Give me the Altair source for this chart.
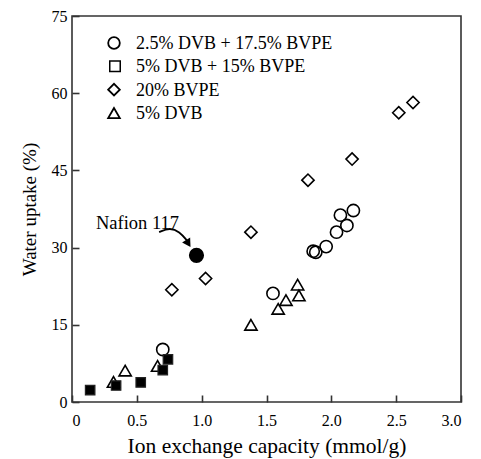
import altair as alt
import pandas as pd

# ---- data ----
series_names = ["2.5% DVB + 17.5% BVPE", "5% DVB + 15% BVPE", "20% BVPE", "5% DVB"]
shapes = ["circle", "square", "diamond", "triangle-up"]

circ_x = [0.70, 1.55, 1.86, 1.88, 1.96, 2.04, 2.12, 2.07, 2.17]
circ_y = [10.2, 21.1, 29.3, 29.1, 30.2, 33.0, 34.3, 36.3, 37.2]

sq_x = [0.14, 0.34, 0.53, 0.70, 0.74]
sq_y = [2.3, 3.2, 3.8, 6.2, 8.3]

dia_x = [0.77, 1.03, 1.38, 1.82, 2.16, 2.52, 2.63]
dia_y = [21.8, 24.0, 33.0, 43.1, 47.2, 56.2, 58.2]

tri_x = [0.32, 0.41, 0.66, 1.38, 1.59, 1.65, 1.74, 1.75]
tri_y = [3.9, 6.1, 7.0, 15.0, 18.1, 19.8, 22.8, 20.7]

nafion_x = [0.96]
nafion_y = [28.5]
nafion_label = ["Nafion 117"]
label_x = [0.185]
label_y = [34.8]

arrow_x = [0.672, 0.754, 0.83, 0.885]
arrow_y = [33.0, 33.9, 33.1, 31.4]
head_x = [0.897]
head_y = [30.8]

x_ticks = [0, 0.5, 1.0, 1.5, 2.0, 2.5, 3.0]
y_ticks = [0, 15, 30, 45, 60, 75]

FONT = "Liberation Serif"

open_names = [series_names[0], series_names[2], series_names[3]]
rows = []
for name, xs, ys in zip(open_names, [circ_x, dia_x, tri_x], [circ_y, dia_y, tri_y]):
    for a, b in zip(xs, ys):
        rows.append({"series": name, "x": a, "y": b})
df_open = pd.DataFrame(rows)
df_sq = pd.DataFrame({"x": sq_x, "y": sq_y})
df_leg_open = pd.DataFrame({"series": open_names})
df_leg_sq = pd.DataFrame({"series": [series_names[1]]})
df_leg = pd.DataFrame({"series": series_names})

xscale = alt.Scale(domain=[0, 3.0], nice=False, zero=False)
yscale = alt.Scale(domain=[0, 75], nice=False, zero=False)
shape_scale = alt.Scale(domain=series_names, range=shapes)

xaxis = alt.Axis(title="Ion exchange capacity (mmol/g)", values=x_ticks,
                 labelExpr="datum.value == 0 ? '0' : format(datum.value, '.1f')",
                 offset=-7, tickSize=7, labelPadding=10, domain=False, grid=False,
                 titlePadding=7, titleFontSize=21.5)
yaxis = alt.Axis(title="Water uptake (%)", values=y_ticks, offset=-7, tickSize=7,
                 labelPadding=5, domain=False, grid=False, titlePadding=12,
                 titleFontSize=19)

points = alt.Chart(df_open).mark_point(filled=False, strokeWidth=1.6, color="black",
                                       opacity=1, size=150).encode(
    x=alt.X("x:Q", scale=xscale, axis=xaxis),
    y=alt.Y("y:Q", scale=yscale, axis=yaxis),
    shape=alt.Shape("series:N", scale=shape_scale, legend=None),
)

squares = alt.Chart(df_sq).mark_point(filled=True, shape="square", size=90, color="black",
                                      opacity=1, stroke="#222222", strokeWidth=1.2).encode(
    x=alt.X("x:Q", scale=xscale), y=alt.Y("y:Q", scale=yscale, axis=None))

naf = alt.Chart(pd.DataFrame({"x": nafion_x, "y": nafion_y})).mark_point(
    filled=True, shape="circle", size=230, color="black", opacity=1).encode(
    x=alt.X("x:Q", scale=xscale), y=alt.Y("y:Q", scale=yscale, axis=None))

txt = alt.Chart(pd.DataFrame({"x": label_x, "y": label_y, "t": nafion_label})).mark_text(
    font=FONT, fontSize=18.5, align="left", baseline="middle", color="black").encode(
    x=alt.X("x:Q", scale=xscale), y=alt.Y("y:Q", scale=yscale, axis=None), text="t:N")

arrow = alt.Chart(pd.DataFrame({"x": arrow_x, "y": arrow_y, "o": list(range(len(arrow_x)))})).mark_line(
    color="black", strokeWidth=1.8, interpolate="basis").encode(
    x=alt.X("x:Q", scale=xscale), y=alt.Y("y:Q", scale=yscale, axis=None), order="o:Q")

head = alt.Chart(pd.DataFrame({"x": head_x, "y": head_y})).mark_point(
    filled=True, shape="triangle-up", size=90, angle=148, color="black", opacity=1).encode(
    x=alt.X("x:Q", scale=xscale), y=alt.Y("y:Q", scale=yscale, axis=None))

# legend drawn as marks (rows placed by a point scale)
leg_y = alt.Y("series:N", scale=alt.Scale(domain=series_names, range=[27, 97], padding=0),
              axis=None)
leg_sym = alt.Chart(df_leg_open).mark_point(filled=False, strokeWidth=1.8, color="black",
                                            opacity=1, size=135).encode(
    x=alt.value(42), y=leg_y,
    shape=alt.Shape("series:N", scale=shape_scale, legend=None))
# open square for the legend: a diamond turned by 45 degrees
leg_sq = alt.Chart(df_leg_sq).mark_point(filled=False, shape="diamond", angle=45,
                                         strokeWidth=1.5, color="black", opacity=1,
                                         size=220).encode(
    x=alt.value(43), y=leg_y)
leg_txt = alt.Chart(df_leg).mark_text(font=FONT, fontSize=18, align="left",
                                      baseline="middle", color="black", dy=1).encode(
    x=alt.value(64), y=leg_y, text="series:N")

chart = alt.layer(points, squares, naf, arrow, head, txt, leg_sym, leg_sq, leg_txt).resolve_scale(
    y="independent"
).properties(
    width=389, height=386,
    autosize=alt.AutoSizeParams(type="none"),
    padding={"left": 72, "top": 16, "right": 20, "bottom": 57},
).configure_view(stroke="#333333", strokeWidth=1.6).configure_axis(
    labelFont=FONT, labelFontSize=16, labelColor="black",
    titleFont=FONT, titleFontWeight="normal", titleColor="black",
    tickColor="#333333", tickWidth=1.6,
)

chart.save("out.html", embed_options={"renderer": "svg", "actions": False})
